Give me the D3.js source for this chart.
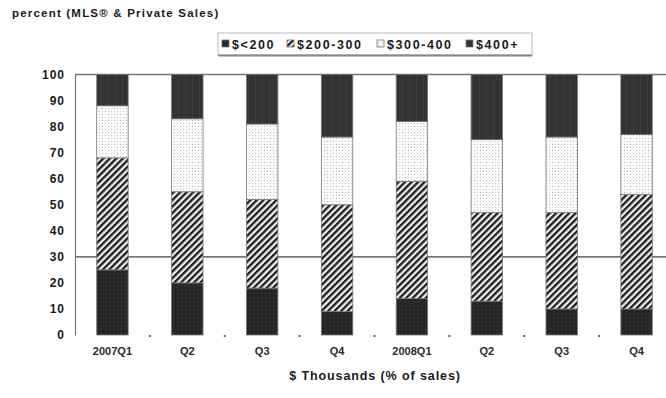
<!DOCTYPE html>
<html>
<head>
<meta charset="utf-8">
<script src="https://cdn.jsdelivr.net/npm/d3@7"></script>
<style>
  html, body { margin: 0; padding: 0; background: #fff; }
  svg { display: block; font-family: "Liberation Sans", Arial, sans-serif; }
</style>
</head>
<body>
<svg id="chart" width="666" height="398"></svg>
<script>
// Quarterly share of sales by price band, in percent
const quarters = ["2007Q1", "Q2", "Q3", "Q4", "2008Q1", "Q2 ", "Q3 ", "Q4 "];
const bands = ["$<200", "$200-300", "$300-400", "$400+"];
const under200 = [25, 20, 18, 9, 14, 13, 10, 10];
const from200to300 = [43, 35, 34, 41, 45, 34, 37, 44];
const from300to400 = [20, 28, 29, 26, 23, 28, 29, 23];
const over400 = [12, 17, 19, 24, 18, 25, 24, 23];
const yTicks = [0, 10, 20, 30, 40, 50, 60, 70, 80, 90, 100];

const series = [under200, from200to300, from300to400, over400];
const rows = quarters.map((q, i) => {
  const r = { q };
  bands.forEach((b, k) => r[b] = series[k][i]);
  return r;
});

const svg = d3.select("#chart");

const x = d3.scaleBand().domain(quarters).range([75, 674]).paddingInner(0.58).paddingOuter(0.29);
const y = d3.scaleLinear().domain([0, 100]).range([335, 74.5]);

// Fill patterns for each band
const defs = svg.append("defs");
const p0 = defs.append("pattern").attr("id", "pat0").attr("patternUnits", "userSpaceOnUse").attr("width", 4).attr("height", 4);
p0.append("rect").attr("width", 4).attr("height", 4).attr("fill", "#262626");
p0.append("rect").attr("x", 1).attr("y", 1).attr("width", 1).attr("height", 1).attr("fill", "#464646");

const p1 = defs.append("pattern").attr("id", "pat1").attr("patternUnits", "userSpaceOnUse").attr("width", 4.6).attr("height", 4.6)
  .attr("patternTransform", "rotate(45)");
p1.append("rect").attr("width", 4.6).attr("height", 4.6).attr("fill", "#eeeeee");
p1.append("rect").attr("x", 0).attr("width", 2.3).attr("height", 4.6).attr("fill", "#1e1e1e");

const p2 = defs.append("pattern").attr("id", "pat2").attr("patternUnits", "userSpaceOnUse").attr("width", 6).attr("height", 6);
p2.append("rect").attr("width", 6).attr("height", 6).attr("fill", "#fafafa");
p2.append("rect").attr("x", 0).attr("y", 0).attr("width", 1).attr("height", 1).attr("fill", "#aaa");
p2.append("rect").attr("x", 3).attr("y", 0).attr("width", 1).attr("height", 1).attr("fill", "#d0d0d0");
p2.append("rect").attr("x", 0).attr("y", 3).attr("width", 1).attr("height", 1).attr("fill", "#d0d0d0");
p2.append("rect").attr("x", 3).attr("y", 3).attr("width", 1).attr("height", 1).attr("fill", "#bbb");

const p3 = defs.append("pattern").attr("id", "pat3").attr("patternUnits", "userSpaceOnUse").attr("width", 7).attr("height", 7);
p3.append("rect").attr("width", 7).attr("height", 7).attr("fill", "#333");
p3.append("rect").attr("x", 3).attr("width", 1).attr("height", 7).attr("fill", "#3d3d3d");

const fills = ["url(#pat0)", "url(#pat1)", "url(#pat2)", "url(#pat3)"];

// Title
svg.append("text").attr("x", 12).attr("y", 17)
  .attr("font-size", 11.5).attr("font-weight", "bold").attr("fill", "#1a1a1a")
  .attr("letter-spacing", 1.2)
  .text("percent (MLS® & Private Sales)");

// Reference lines at 100 and 30
[100, 30].forEach(v => {
  svg.append("line").attr("x1", 75).attr("x2", 666).attr("y1", y(v)).attr("y2", y(v))
    .attr("stroke", "#777").attr("stroke-width", 1.6);
});

// Stacked bars
const stacked = d3.stack().keys(bands)(rows);
svg.append("g").selectAll("g").data(stacked).join("g")
  .attr("fill", (d, i) => fills[i])
  .selectAll("rect").data(d => d).join("rect")
  .attr("x", d => x(d.data.q))
  .attr("width", x.bandwidth())
  .attr("y", d => y(d[1]))
  .attr("height", d => y(d[0]) - y(d[1]))
  .attr("stroke", "#777").attr("stroke-width", 0.8);

// Y axis
const yAxis = svg.append("g").attr("transform", "translate(75,0)")
  .call(d3.axisLeft(y).tickValues(yTicks).tickSize(0).tickPadding(10));
yAxis.select(".domain").attr("stroke", "#777").attr("stroke-width", 1.2);
yAxis.selectAll("text").attr("font-size", 12).attr("font-weight", "bold").attr("fill", "#1a1a1a")
  .attr("letter-spacing", 1)
  .attr("font-family", "Liberation Sans, Arial, sans-serif");

// X axis: category labels and small separators between groups
const xAxis = svg.append("g").attr("transform", "translate(0,335)")
  .call(d3.axisBottom(x).tickSize(0).tickPadding(12));
xAxis.select(".domain").remove();
xAxis.selectAll("text").attr("font-size", 11).attr("font-weight", "bold").attr("fill", "#2a2a2a")
  .attr("font-family", "Liberation Sans Narrow, Liberation Sans, Arial, sans-serif")
  .text(d => d.trim());
svg.append("g").selectAll("rect").data(quarters.slice(1)).join("rect")
  .attr("x", d => x(d) - x.step() * x.paddingInner() / 2 - 1)
  .attr("y", 335).attr("width", 2).attr("height", 2).attr("fill", "#666");

// X axis title
svg.append("text").attr("x", 375).attr("y", 380).attr("text-anchor", "middle")
  .attr("font-size", 12.5).attr("font-weight", "bold").attr("fill", "#1a1a1a")
  .attr("letter-spacing", 0.9)
  .text("$ Thousands (% of sales)");

// Legend
const lg = svg.append("g");
lg.append("rect").attr("x", 218).attr("y", 33).attr("width", 314).attr("height", 22)
  .attr("fill", "#fff").attr("stroke", "#bbb").attr("stroke-width", 1);
lg.append("line").attr("x1", 218).attr("x2", 532).attr("y1", 55.5).attr("y2", 55.5)
  .attr("stroke", "#888").attr("stroke-width", 2);
const legendX = [222, 287, 377, 466];
bands.forEach((b, i) => {
  lg.append("rect").attr("x", legendX[i]).attr("y", 40).attr("width", 7).attr("height", 7)
    .attr("fill", fills[i]).attr("stroke", "#777").attr("stroke-width", 0.8);
  lg.append("text").attr("x", legendX[i] + 10).attr("y", 48.5)
    .attr("font-size", 12.5).attr("font-weight", "bold").attr("fill", "#1a1a1a")
    .attr("letter-spacing", 1.6).text(b);
});
</script>
</body>
</html>
